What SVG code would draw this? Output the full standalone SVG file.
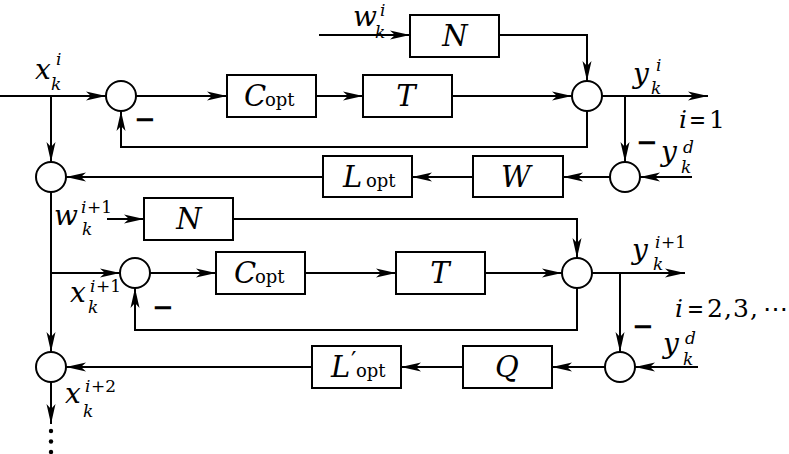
<svg xmlns="http://www.w3.org/2000/svg" width="789" height="454" viewBox="0 0 789 454">
<defs>
<marker id="ah" markerUnits="userSpaceOnUse" markerWidth="24" markerHeight="12" viewBox="-21 -6 22 12" refX="0" refY="0" orient="auto">
<path d="M0,0 L-20,-4.5 L-15,0 L-20,4.5 Z" fill="#000"/>
</marker>
</defs>
<style>
.box{fill:#fff;stroke:#000;stroke-width:2}
.sum{fill:#fff;stroke:#000;stroke-width:2}
.ar{fill:none;stroke:#000;stroke-width:2;marker-end:url(#ah)}
text,tspan{font-family:"DejaVu Serif",serif;fill:#000}
.big{font-size:29px;font-style:italic}
.sub{font-size:18px;font-style:normal}
.var{font-size:28px;font-style:italic}
.sc{font-size:17px;font-style:italic}
.up{font-style:normal}
.lab{font-size:25px}
.minus{font-size:26px;font-weight:bold;font-family:"DejaVu Sans",sans-serif}
</style>
<rect width="789" height="454" fill="#fff"/>

<g id="connectors">
<path class="ar" d="M0,96 H106"/>
<path class="ar" d="M136,96 H227"/>
<path class="ar" d="M316,96 H363"/>
<path class="ar" d="M452,96 H572"/>
<path class="ar" d="M602,96 H708"/>
<path class="ar" d="M319,35 H410"/>
<path class="ar" d="M499,35 H587 V81"/>
<path class="ar" d="M587,111 V147 H121 V111"/>
<path class="ar" d="M625,96 V162"/>
<path class="ar" d="M692,177 H640"/>
<path class="ar" d="M610,177 H563"/>
<path class="ar" d="M473,177 H412"/>
<path class="ar" d="M323,177 H66"/>
<path class="ar" d="M51,96 V162"/>
<path class="ar" d="M51,192 V352"/>
<path class="ar" d="M51,273 H120"/>
<path class="ar" d="M107,219 H144"/>
<path class="ar" d="M233,219 H577 V258"/>
<path class="ar" d="M150,273 H216"/>
<path class="ar" d="M305,273 H396"/>
<path class="ar" d="M485,273 H562"/>
<path class="ar" d="M592,273 H685"/>
<path class="ar" d="M577,288 V330 H135 V288"/>
<path class="ar" d="M620,273 V352"/>
<path class="ar" d="M698,367 H635"/>
<path class="ar" d="M605,367 H552"/>
<path class="ar" d="M463,367 H401"/>
<path class="ar" d="M312,367 H66"/>
<path class="ar" d="M51,382 V424"/>
<circle cx="51" cy="431" r="2.2" fill="#000"/>
<circle cx="51" cy="441.5" r="2.2" fill="#000"/>
<circle cx="51" cy="452" r="2.2" fill="#000"/>
</g>

<g id="sum1"><circle class="sum" cx="121" cy="96" r="15"/></g>
<g id="sum2"><circle class="sum" cx="587" cy="96" r="15"/></g>
<g id="sum3"><circle class="sum" cx="625" cy="177" r="15"/></g>
<g id="sum4"><circle class="sum" cx="51" cy="177" r="15"/></g>
<g id="sum5"><circle class="sum" cx="135" cy="273" r="15"/></g>
<g id="sum6"><circle class="sum" cx="577" cy="273" r="15"/></g>
<g id="sum7"><circle class="sum" cx="620" cy="367" r="15"/></g>
<g id="sum8"><circle class="sum" cx="51" cy="367" r="15"/></g>

<g id="copt1"><rect class="box" x="227" y="75" width="89" height="42"/>
<text x="244" y="106"><tspan class="big">C</tspan><tspan class="sub" x="265">opt</tspan></text></g>
<g id="t1"><rect class="box" x="363" y="75" width="89" height="42"/>
<text class="big" x="406" y="106" text-anchor="middle">T</text></g>
<g id="n1"><rect class="box" x="410" y="15" width="89" height="42"/>
<text class="big" x="455" y="46" text-anchor="middle">N</text></g>
<g id="w1"><rect class="box" x="473" y="156" width="90" height="41"/>
<text class="big" x="516" y="187" text-anchor="middle">W</text></g>
<g id="l1"><rect class="box" x="323" y="156" width="89" height="41"/>
<text x="343" y="187"><tspan class="big">L</tspan><tspan class="sub" x="366">opt</tspan></text></g>

<g id="n2"><rect class="box" x="144" y="198" width="89" height="42"/>
<text class="big" x="189" y="229" text-anchor="middle">N</text></g>
<g id="copt2"><rect class="box" x="216" y="252" width="89" height="42"/>
<text x="234" y="283"><tspan class="big">C</tspan><tspan class="sub" x="255">opt</tspan></text></g>
<g id="t2"><rect class="box" x="396" y="252" width="89" height="42"/>
<text class="big" x="440" y="283" text-anchor="middle">T</text></g>
<g id="q"><rect class="box" x="463" y="346" width="89" height="42"/>
<text class="big" x="507" y="377" text-anchor="middle">Q</text></g>
<g id="l2"><rect class="box" x="312" y="346" width="89" height="42"/>
<text x="331" y="377"><tspan class="big">L</tspan><tspan class="sub" x="351" y="369" style="font-size:24px">′</tspan><tspan class="sub" x="356" y="377">opt</tspan></text></g>

<g id="labels">
<text><tspan class="var" x="35" y="79">x</tspan><tspan class="sc" x="56" y="65">i</tspan><tspan class="sc" x="51" y="90">k</tspan></text>
<text><tspan class="var" x="353" y="26">w</tspan><tspan class="sc" x="380" y="16">i</tspan><tspan class="sc" x="375" y="38">k</tspan></text>
<text><tspan class="var" x="633" y="83">y</tspan><tspan class="sc" x="656" y="71">i</tspan><tspan class="sc" x="651" y="94">k</tspan></text>
<text class="lab"><tspan x="679" y="128" font-style="italic">i</tspan><tspan x="689" y="128" textLength="17" lengthAdjust="spacingAndGlyphs">=</tspan><tspan x="709" y="128">1</tspan></text>
<text><tspan class="var" x="661" y="161">y</tspan><tspan class="sc" x="683" y="153">d</tspan><tspan class="sc" x="681" y="173">k</tspan></text>
<text class="minus" x="134" y="128">−</text>
<text class="minus" x="636" y="151">−</text>

<text><tspan class="var" x="54" y="225">w</tspan><tspan class="sc" x="81" y="213">i</tspan><tspan class="sc up" x="87" y="213">+1</tspan><tspan class="sc" x="82" y="235">k</tspan></text>
<text><tspan class="var" x="70" y="302">x</tspan><tspan class="sc" x="90" y="292">i</tspan><tspan class="sc up" x="96" y="292">+1</tspan><tspan class="sc" x="88" y="313">k</tspan></text>
<text><tspan class="var" x="65" y="403">x</tspan><tspan class="sc" x="85" y="392">i</tspan><tspan class="sc up" x="91" y="392">+2</tspan><tspan class="sc" x="83" y="417">k</tspan></text>
<text><tspan class="var" x="632" y="259">y</tspan><tspan class="sc" x="655" y="248">i</tspan><tspan class="sc up" x="661" y="248">+1</tspan><tspan class="sc" x="653" y="270">k</tspan></text>
<text><tspan class="var" x="663" y="353">y</tspan><tspan class="sc" x="685" y="344">d</tspan><tspan class="sc" x="683" y="365">k</tspan></text>
<text class="lab"><tspan x="675" y="317" font-style="italic">i</tspan><tspan x="687" y="317" textLength="17" lengthAdjust="spacingAndGlyphs">=</tspan><tspan x="707" y="317">2</tspan><tspan x="724" y="317">,</tspan><tspan x="733" y="317">3</tspan><tspan x="750" y="317">,</tspan><tspan x="763" y="317" textLength="25" lengthAdjust="spacingAndGlyphs">⋯</tspan></text>
<text class="minus" x="152" y="316">−</text>
<text class="minus" x="632" y="335">−</text>
</g>
</svg>
